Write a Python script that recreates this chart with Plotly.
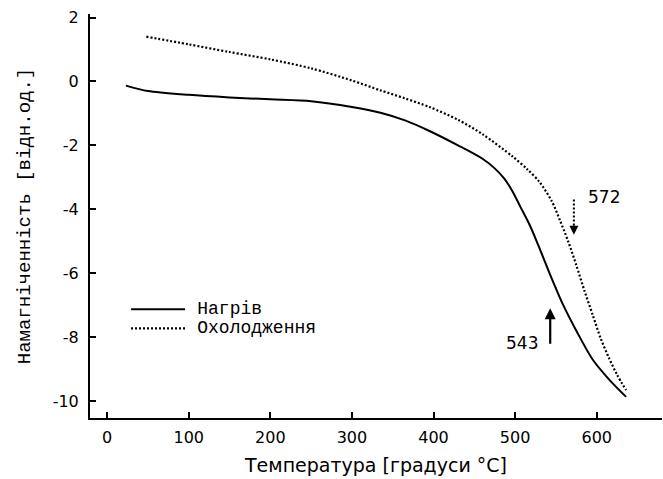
import plotly.graph_objects as go

# Heating curve (solid)
heat_t = [23, 50, 100, 150, 200, 250, 300, 335, 365, 395, 430, 460, 475, 487, 497,
          506, 518, 528, 543, 559, 575, 595, 615, 636]
heat_m = [-0.13, -0.30, -0.42, -0.50, -0.56, -0.62, -0.80, -0.98, -1.22, -1.55, -2.00,
          -2.42, -2.72, -3.05, -3.45, -3.90, -4.50, -5.10, -6.05, -7.00, -7.80, -8.70,
          -9.32, -9.87]

# Cooling curve (dotted)
cool_t = [48, 100, 150, 200, 250, 300, 335, 365, 395, 430, 460, 497, 515, 530, 545,
          555, 565, 575, 585, 595, 605, 615, 625, 636]
cool_m = [1.40, 1.16, 0.92, 0.69, 0.41, 0.03, -0.28, -0.53, -0.80, -1.20, -1.65, -2.35,
          -2.75, -3.15, -3.75, -4.35, -5.00, -5.75, -6.55, -7.30, -8.05, -8.65, -9.18,
          -9.66]

series_names = ["Нагрів", "Охолодження"]

# Transition temperatures marked with arrows
heat_point = 543
heat_arrow_y = [-8.25, -7.10]
cool_point = 572
cool_arrow_y = [-3.69, -4.80]

x_ticks = [0, 100, 200, 300, 400, 500, 600]
y_ticks = [2, 0, -2, -4, -6, -8, -10]
y_tick_text = ["2", "0", "-2", "-4", "-6", "-8", "-10"]

mono = "Liberation Mono"
sans = "DejaVu Sans"


def legend_label(s):
    # small non-breaking space widens the gap after the line sample
    return ('<span style="font-size:12px">&#160;</span>'
            '<span style="font-size:18px">' + s + '</span>')


fig = go.Figure()
fig.add_trace(go.Scatter(x=heat_t, y=heat_m, mode="lines", name=legend_label(series_names[0]),
                         line=dict(color="black", width=2, shape="spline", smoothing=0.8)))
fig.add_trace(go.Scatter(x=cool_t, y=cool_m, mode="lines", name=legend_label(series_names[1]),
                         line=dict(color="black", width=2.2, dash="2px,2px",
                                   shape="spline", smoothing=0.8)))

# dotted shaft of the cooling arrow
fig.add_trace(go.Scatter(x=[cool_point, cool_point], y=[cool_arrow_y[0], cool_arrow_y[1] + 0.3],
                         mode="lines", showlegend=False, hoverinfo="skip",
                         line=dict(color="black", width=2, dash="2px,2px")))
# arrow heads
fig.add_annotation(x=cool_point, y=cool_arrow_y[1], ax=cool_point, ay=cool_arrow_y[1] + 0.35,
                   xref="x", yref="y", axref="x", ayref="y", text="", showarrow=True,
                   arrowhead=2, arrowsize=1.2, arrowwidth=1.5, arrowcolor="black")
fig.add_annotation(x=heat_point, y=heat_arrow_y[1], ax=heat_point, ay=heat_arrow_y[0],
                   xref="x", yref="y", axref="x", ayref="y", text="", showarrow=True,
                   arrowhead=2, arrowsize=1, arrowwidth=2.2, arrowcolor="black")
# labels
fig.add_annotation(x=heat_point, y=heat_arrow_y[0], xref="x", yref="y", text=str(heat_point),
                   showarrow=False, xanchor="right", yanchor="middle", xshift=-10, yshift=2,
                   font=dict(family=sans, size=17, color="black"))
fig.add_annotation(x=cool_point, y=cool_arrow_y[0], xref="x", yref="y", text=str(cool_point),
                   showarrow=False, xanchor="left", yanchor="middle", xshift=12, yshift=2,
                   font=dict(family=sans, size=17, color="black"))

axis_common = dict(showline=True, linecolor="black", linewidth=2, ticks="inside",
                   ticklen=6, tickwidth=2, tickcolor="black", showgrid=False,
                   zeroline=False, mirror=False,
                   tickfont=dict(family=sans, size=16, color="black"))

fig.update_layout(
    width=663, height=479,
    margin=dict(l=90, r=1, t=14, b=61),
    paper_bgcolor="white", plot_bgcolor="white",
    showlegend=True,
    legend=dict(x=0.063, y=0.305, xanchor="left", yanchor="top",
                bgcolor="rgba(0,0,0,0)", font=dict(family=mono, size=12, color="black"),
                itemwidth=54, tracegroupgap=0),
    xaxis=dict(range=[-21, 680], tickvals=x_ticks, ticklabelstandoff=4,
               title=dict(text="Температура [градуси °C]", standoff=12,
                          font=dict(family=sans, size=19, color="black")),
               **axis_common),
    yaxis=dict(range=[-10.53, 2.11], tickvals=y_ticks, ticktext=y_tick_text,
               ticklabelstandoff=6,
               title=dict(text="Намагніченність [відн.од.]", standoff=17,
                          font=dict(family=mono, size=19, color="black")),
               **axis_common),
)

fig.write_html("out.html")
